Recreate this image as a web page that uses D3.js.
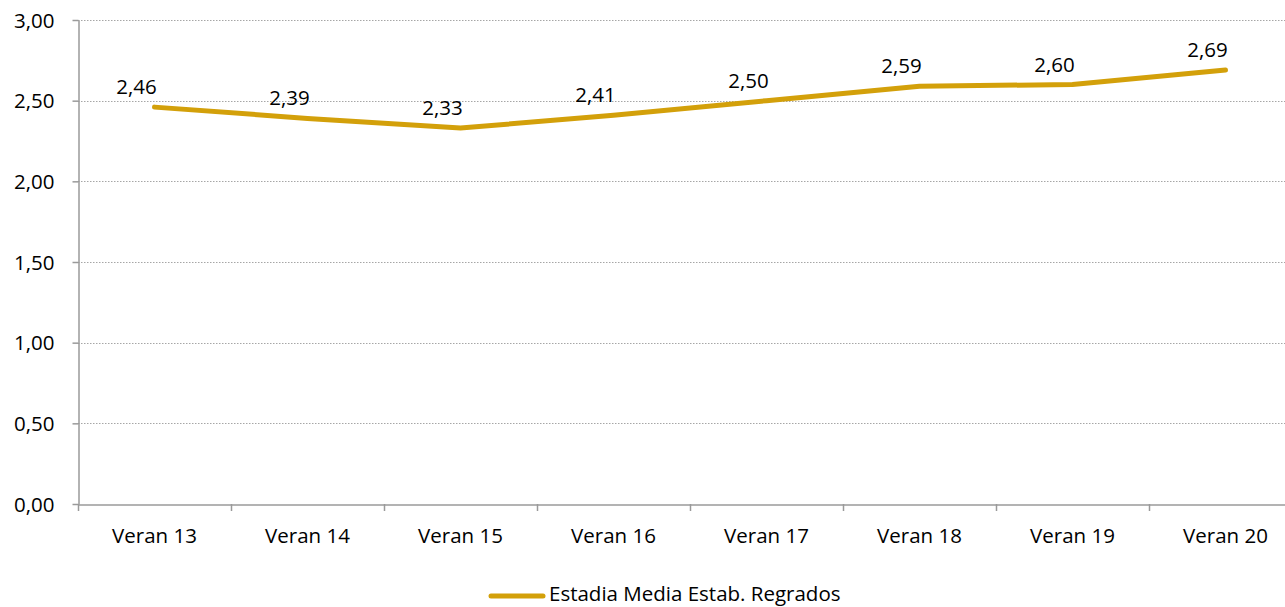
<!DOCTYPE html>
<html>
<head>
<meta charset="utf-8">
<script src="https://cdn.jsdelivr.net/npm/d3@7"></script>
<style>
  html, body { margin: 0; padding: 0; background: #fff; }
  svg { display: block; font-family: "Open Sans", Lato, sans-serif; }
</style>
</head>
<body>
<svg id="chart" width="1285" height="607"></svg>
<script>
const categories = ["Veran 13", "Veran 14", "Veran 15", "Veran 16", "Veran 17", "Veran 18", "Veran 19", "Veran 20"];
const values = [2.46, 2.39, 2.33, 2.41, 2.50, 2.59, 2.60, 2.69];
const yTicks = [0, 0.5, 1.0, 1.5, 2.0, 2.5, 3.0];
const seriesName = "Estadia Media Estab. Regrados";

const plotLeft = 78, plotRight = 1302, plotTop = 20, plotBottom = 504;
const lineColor = "#D3A00A";
const axisColor = "#9a9a9a";
const fs = 20.5;
const ff = "'Open Sans', sans-serif";

const svg = d3.select("#chart");
const x = d3.scaleBand().domain(categories).range([plotLeft, plotRight]);
const y = d3.scaleLinear().domain([0, 3]).range([plotBottom, plotTop]);
const fmt = v => d3.format(".2f")(v).replace(".", ",");

// gridlines
svg.append("g").selectAll("line").data(yTicks.filter(d => d > 0)).join("line")
  .attr("x1", plotLeft).attr("x2", plotRight)
  .attr("y1", d => Math.round(y(d)) + 0.5).attr("y2", d => Math.round(y(d)) + 0.5)
  .attr("stroke", "#a6a6a6").attr("stroke-width", 1).attr("stroke-dasharray", "1.5,1.5");

// y axis
const yAxis = svg.append("g").attr("transform", `translate(${plotLeft + 0.5},0)`)
  .call(d3.axisLeft(y).tickValues(yTicks).tickFormat(fmt).tickSize(6).tickPadding(18).tickSizeOuter(0));
yAxis.select(".domain").attr("stroke", axisColor).attr("stroke-width", 1.5);
yAxis.selectAll(".tick line").attr("stroke", axisColor).attr("stroke-width", 1.5);
yAxis.selectAll(".tick text").attr("font-size", fs).attr("font-family", ff).attr("fill", "#000").attr("dy", "0.35em");

// x axis
const xAxis = svg.append("g").attr("transform", `translate(0,${plotBottom + 0.5})`)
  .call(d3.axisBottom(x).tickSize(0).tickPadding(0).tickSizeOuter(0));
xAxis.select(".domain").attr("stroke", axisColor).attr("stroke-width", 1.5);
xAxis.selectAll(".tick text").attr("font-size", fs).attr("font-family", ff).attr("fill", "#000")
  .attr("y", 38).attr("dy", 0);
// x ticks between categories
svg.append("g").selectAll("line").data(categories.concat(["end"])).join("line")
  .attr("x1", d => Math.round(d === "end" ? plotRight : x(d)) + 0.5)
  .attr("x2", d => Math.round(d === "end" ? plotRight : x(d)) + 0.5)
  .attr("y1", plotBottom).attr("y2", plotBottom + 7)
  .attr("stroke", axisColor).attr("stroke-width", 1.5);

// line
const line = d3.line().x((d, i) => x(categories[i]) + x.bandwidth() / 2).y(d => y(d));
svg.append("path").datum(values)
  .attr("d", line).attr("fill", "none")
  .attr("stroke", lineColor).attr("stroke-width", 5)
  .attr("stroke-linecap", "round").attr("stroke-linejoin", "round");

// data labels
svg.append("g").selectAll("text").data(values).join("text")
  .attr("x", (d, i) => x(categories[i]) + x.bandwidth() / 2 - 18)
  .attr("y", d => y(d) - 13)
  .attr("text-anchor", "middle")
  .attr("font-size", fs).attr("font-family", ff).attr("fill", "#000")
  .text(fmt);

// legend
const lg = svg.append("g");
lg.append("line").attr("x1", 491).attr("x2", 543).attr("y1", 596).attr("y2", 596)
  .attr("stroke", lineColor).attr("stroke-width", 5).attr("stroke-linecap", "round");
lg.append("text").attr("x", 549).attr("y", 601).attr("font-size", fs).attr("font-family", ff).attr("fill", "#000").text(seriesName);
</script>
</body>
</html>
